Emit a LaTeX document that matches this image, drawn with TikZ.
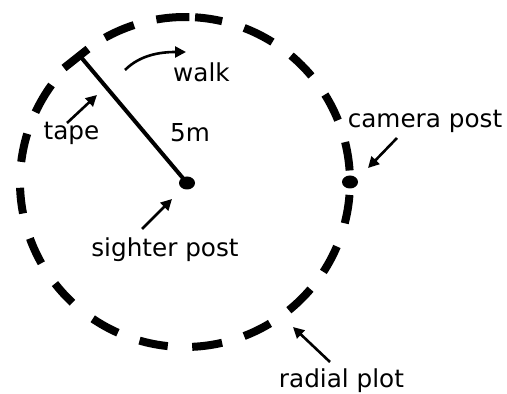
\documentclass[tikz,border=0pt]{standalone}
\usepackage{fontspec}
\setmainfont{DejaVu Sans}
\usepackage{tikz}
\usetikzlibrary{positioning, arrows.meta, shapes.geometric}

\begin{document}
\begin{tikzpicture}[
        x=1pt, y=1pt,
        every node/.style={font=\fontsize{24.7}{30}\selectfont, inner sep=0pt, anchor=base},
        post/.style={draw=none, fill=black, ellipse, minimum width=16pt, minimum height=13pt},
        plotdash/.style={line width=8pt},
        tapeline/.style={line width=4pt},
        arrow/.style={-{Triangle[length=11pt,width=11pt]}, line width=2.6pt}
    ]
        \useasboundingbox (0,0) rectangle (507,394);
        % Nodes
        \coordinate (plot) at (185,212);
        \node (sighter) at (187,211) [post, anchor=center] {};
        \node (camera) at (350,212) [post, anchor=center] {};
        \coordinate (tapeEnd) at (80,338);
        \coordinate (barA) at (64,326);
        \coordinate (barB) at (88,345);

        \node (walkTxt) at (201.5,312) {walk};
        \node (tapeTxt) at (71.5,254) {tape};
        \node (lenTxt) at (190,252) {5m};
        \node (cameraTxt) at (425,266) {camera post};
        \node (sighterTxt) at (165,137) {sighter post};
        \node (plotTxt) at (341.5,6.5) {radial plot};

        % Plot circle
        \foreach \a/\b in {4/14, 22/32, 40/50, 58/69, 77/86.5, 88.5/100, 108/119,
                           144/155, 163/173, 182/191, 200/209.5, 218/227, 236/246,
                           254/264, 272.5/283, 291/301, 309/319.5, 327/337, 345.5/355.5}
            \draw[plotdash] ([shift={(\a:165)}]plot) arc[start angle=\a, end angle=\b, radius=165];

        % Tape
        \draw[tapeline] (sighter.center) -- (tapeEnd);
        \draw[plotdash] (barA) -- (barB);

    \begin{scope}
        \coordinate (walkS) at (125,324);
        \coordinate (walkE) at (186,342);
        \coordinate (tapeS) at (67,271);
        \coordinate (tapeE) at (97,299);
        \coordinate (cameraS) at (397,256);
        \coordinate (cameraE) at (368,226);
        \coordinate (sighterS) at (142,165);
        \coordinate (sighterE) at (172,195);
        \coordinate (plotS) at (330,32);
        \coordinate (plotE) at (293,67);
        % Connections
        \draw[arrow] (walkS) .. controls (140,339) and (160,342) .. (walkE);
        \draw[arrow] (tapeS) -- (tapeE);
        \draw[arrow] (cameraS) -- (cameraE);
        \draw[arrow] (sighterS) -- (sighterE);
        \draw[arrow] (plotS) -- (plotE);
    \end{scope}
\end{tikzpicture}
\end{document}
